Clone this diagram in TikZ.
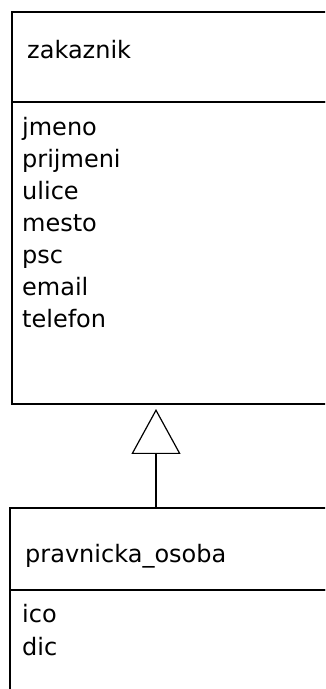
\documentclass[tikz,border=0pt]{standalone}
\usepackage{fontspec}
\setmainfont{DejaVu Sans}
\usetikzlibrary{arrows.meta,positioning}
\tikzset{
  classpart/.style={draw, line width=1.5pt, anchor=north west, minimum width=330pt, inner sep=0pt, outer sep=0pt},
  umltext/.style={anchor=base west, inner sep=0pt, font=\fontsize{24}{32}\selectfont},
  inherit/.style={-{Triangle[open, width=49pt, length=45pt]}, line width=1.2pt}
}
\begin{document}
\begin{tikzpicture}[x=1pt,y=1pt]
		\useasboundingbox (0,0) rectangle (325,689);
		\clip (0,0) rectangle (325,689);
		
		%%%%% zakaznik %%%%%
		\node[classpart, minimum height=90pt] (zakHead) at (12,677) {};
		\node[classpart, minimum height=302pt] (zakBody) at (zakHead.south west) {};
		\node[umltext] (zakName) at (27,630) {zakaznik};
		\foreach \attr [count=\i] in {jmeno,prijmeni,ulice,mesto,psc,email,telefon}
			\node[umltext] (zakAttr\i) at (22,{585-32*\i}) {\attr};
		
		%%%%% pravnicka_osoba %%%%%
		\node[classpart, minimum height=82pt] (poHead) at (10,181) {};
		\node[classpart, minimum height=140pt] (poBody) at (poHead.south west) {};
		\node[umltext] (poName) at (25,126) {pravnicka\_osoba};
		\node[umltext] (poAttr1) at (22,66) {ico};
		\node[umltext] (poAttr2) at (22,34) {dic};
		
		%%%%% generalisation %%%%%
		\coordinate (stemFoot) at (156,181);
		\coordinate (apex) at (156,280);
		\draw[inherit] (stemFoot) -- (apex);
	\end{tikzpicture}
\end{document}
